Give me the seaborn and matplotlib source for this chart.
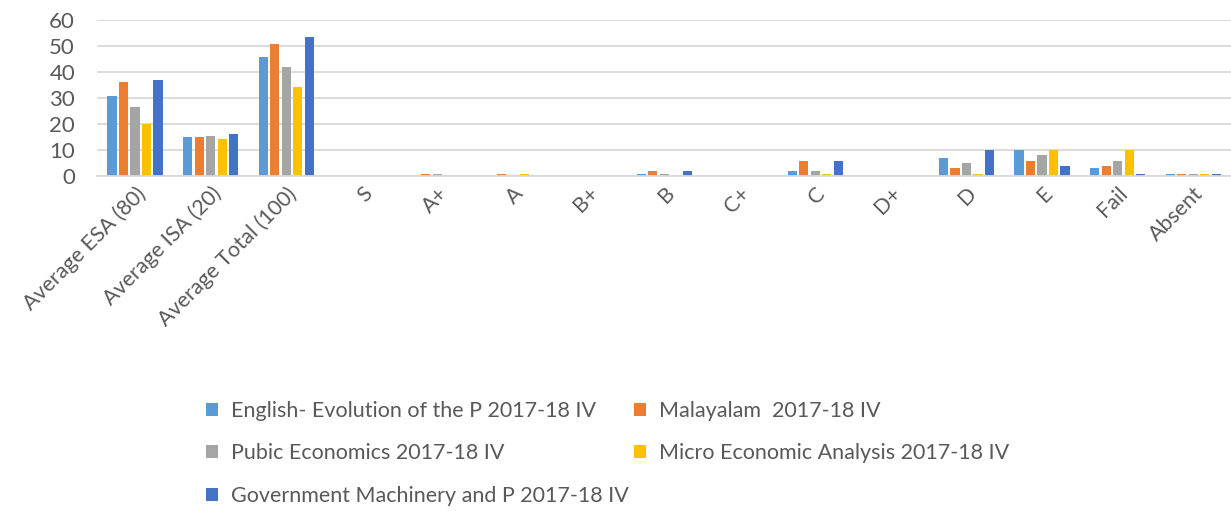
import pandas as pd
import seaborn as sns
import matplotlib.pyplot as plt

# categories on the x axis
categories = ['Average ESA (80)', 'Average ISA (20)', 'Average Total (100)', 'S', 'A+', 'A',
              'B+', 'B', 'C+', 'C', 'D+', 'D', 'E', 'Fail', 'Absent']

# series values, one list per course
english = [31, 15, 45.6, 0, 0, 0, 0, 1, 0, 2, 0, 7, 10, 3, 1]
malayalam = [36, 15.2, 50.9, 0, 1, 1, 0, 2, 0, 6, 0, 3, 6, 4, 1]
pubic = [26.5, 15.4, 41.9, 0, 1, 0, 0, 1, 0, 2, 0, 5, 8, 6, 1]
micro = [20, 14.4, 34.1, 0, 0, 1, 0, 0, 0, 1, 0, 1, 10, 10, 1]
govt = [37, 16.3, 53.3, 0, 0, 0, 0, 2, 0, 6, 0, 10, 4, 1, 1]

series_names = ['English- Evolution of the P 2017-18 IV', 'Malayalam  2017-18 IV',
                'Pubic Economics 2017-18 IV', 'Micro Economic Analysis 2017-18 IV',
                'Government Machinery and P 2017-18 IV']
series_colors = ['#5B9BD5', '#ED7D31', '#A5A5A5', '#FFC000', '#4472C4']

# build long-format table for seaborn
rows = []
for name, vals in zip(series_names, [english, malayalam, pubic, micro, govt]):
    for cat, v in zip(categories, vals):
        rows.append({'Category': cat, 'Course': name, 'Value': v})
df = pd.DataFrame(rows)

sns.set_theme(style='white')
plt.rcParams['font.family'] = ['Lato', 'DejaVu Sans']
text_col = '#595959'

fig = plt.figure(figsize=(12.31, 5.11), dpi=100)
ax = fig.add_axes([0.079, 0.655, 0.921, 0.306])

sns.barplot(data=df, x='Category', y='Value', hue='Course', order=categories,
            hue_order=series_names, palette=series_colors, width=0.76, gap=0.2,
            linewidth=0, saturation=1, ax=ax)

ax.set_ylim(0, 60)
ax.set_yticks(range(0, 61, 10))
ax.yaxis.grid(True, color='#d9d9d9', linewidth=1.3)
ax.set_axisbelow(True)
for s in ['top', 'right', 'left']:
    ax.spines[s].set_visible(False)
ax.spines['bottom'].set_color('#d9d9d9')
ax.spines['bottom'].set_linewidth(1.3)
ax.set_xlabel('')
ax.set_ylabel('')
ax.tick_params(axis='y', length=0, pad=16, labelsize=16, labelcolor=text_col)
ax.tick_params(axis='x', length=0, pad=5, labelsize=15.5, labelcolor=text_col)
plt.setp(ax.get_xticklabels(), rotation=45, ha='right', rotation_mode='anchor')

# legend laid out row-wise like the reference
handles, labels = ax.get_legend_handles_labels()
ax.legend_.remove()
order = [0, 2, 4, 1, 3]
fig.legend([handles[i] for i in order], [labels[i] for i in order],
           loc='upper left', bbox_to_anchor=(0.159, 1 - 390 / 511), ncol=2,
           frameon=False, fontsize=15.5, labelcolor=text_col,
           handlelength=0.55, handleheight=0.55, handletextpad=0.6,
           labelspacing=1.05, columnspacing=0.25, borderpad=0)

fig.savefig('out.png', dpi=100)
